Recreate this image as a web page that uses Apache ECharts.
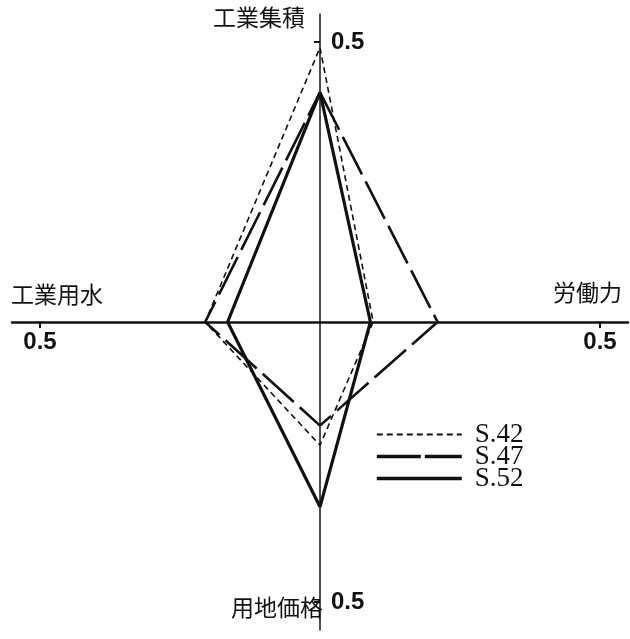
<!DOCTYPE html>
<html>
<head>
<meta charset="utf-8">
<script src="https://cdn.jsdelivr.net/npm/echarts@6/dist/echarts.min.js"></script>
<style>
  html, body { margin: 0; padding: 0; background: #fff; }
  #main { width: 630px; height: 639px; }
</style>
</head>
<body>
<div id="main"></div>
<script>
// 4方向の指標 (上, 右, 下, 左)
var categories = ['工業集積', '労働力', '用地価格', '工業用水'];
var seriesNames = ['S.42', 'S.47', 'S.52'];
var s42 = [0.49, 0.095, 0.22, 0.205];
var s47 = [0.41, 0.21, 0.185, 0.205];
var s52 = [0.41, 0.09, 0.33, 0.165];
var tickValues = [-0.5, 0.5];

// 上→右→下→左→上 の順に点をつなぐ
function toPoints(v) {
    return [[0, v[0]], [v[1], 0], [0, -v[2]], [-v[3], 0], [0, v[0]]];
}

var myChart = echarts.init(document.getElementById('main'));

var gridW = 616, gridH = 616;

var labelFont = {
    fontFamily: 'Liberation Sans',
    fontSize: 24,
    fontWeight: 'bold',
    color: '#111'
};
var nameFont = {
    fontFamily: 'Noto Sans CJK JP',
    fontSize: 23,
    fill: '#111'
};

var option = {
    animation: false,
    backgroundColor: '#fff',
    grid: { left: 12, top: 14, width: gridW, height: gridH },
    xAxis: {
        type: 'value',
        min: -0.55,
        max: 0.55,
        position: 'bottom',
        offset: -gridH / 2, // 軸を中央へ
        axisLine: { onZero: false, lineStyle: { color: '#111', width: 2.5 } },
        axisTick: { show: true, customValues: tickValues, length: 6, lineStyle: { color: '#111', width: 2 } },
        axisLabel: {
            customValues: tickValues,
            formatter: function (v) { return Math.abs(v).toFixed(1) },
            margin: 8,
            ...labelFont
        },
        splitLine: { show: false }
    },
    yAxis: {
        type: 'value',
        min: -0.55,
        max: 0.55,
        position: 'left',
        offset: -gridW / 2,
        axisLine: { onZero: false, lineStyle: { color: '#111', width: 1.5 } },
        axisTick: { show: true, customValues: tickValues, length: 6, lineStyle: { color: '#111', width: 2 } },
        axisLabel: {
            inside: true,
            customValues: tickValues,
            formatter: function (v) { return Math.abs(v).toFixed(1) },
            margin: 11,
            ...labelFont
        },
        splitLine: { show: false }
    },
    legend: {
        data: [
            { name: seriesNames[0], lineStyle: { width: 2.2 } },
            { name: seriesNames[1], lineStyle: { type: [44, 4], width: 3.4 } },
            { name: seriesNames[2], lineStyle: { width: 3.6 } }
        ],
        orient: 'vertical',
        left: 370,
        top: 416,
        itemWidth: 85,
        itemHeight: 14,
        itemGap: -5,
        itemStyle: { opacity: 0 },
        textStyle: { fontFamily: 'Liberation Serif', fontSize: 27, color: '#111', padding: [0, 0, 0, 8] }
    },
    graphic: [
        { type: 'text', left: 213, top: 6, style: { text: categories[0], ...nameFont } },
        { type: 'text', right: 8, top: 281, style: { text: categories[1], ...nameFont } },
        { type: 'text', left: 231, top: 596, style: { text: categories[2], ...nameFont } },
        { type: 'text', left: 11, top: 283, style: { text: categories[3], ...nameFont } }
    ],
    series: [
        {
            name: seriesNames[0],
            type: 'line',
            symbol: 'none',
            data: toPoints(s42),
            lineStyle: { color: '#111', width: 1.6, type: [6, 4] }
        },
        {
            name: seriesNames[1],
            type: 'line',
            symbol: 'none',
            data: toPoints(s47),
            lineStyle: { color: '#111', width: 2.6, type: [42, 8] }
        },
        {
            name: seriesNames[2],
            type: 'line',
            symbol: 'none',
            data: toPoints(s52),
            lineStyle: { color: '#111', width: 3.2 }
        }
    ]
};
myChart.setOption(option);
</script>
</body>
</html>
